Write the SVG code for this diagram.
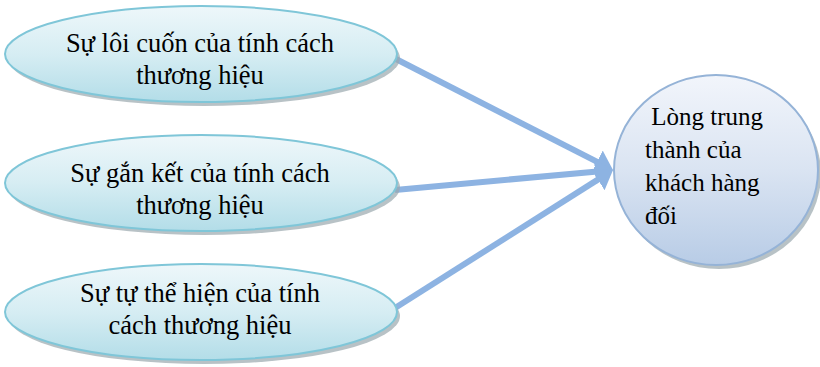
<svg xmlns="http://www.w3.org/2000/svg" width="820" height="367" viewBox="0 0 820 367">
<defs>
<linearGradient id="gE" x1="0" y1="0" x2="0" y2="1">
<stop offset="0" stop-color="#eef7fa"/>
<stop offset="0.5" stop-color="#d6edf3"/>
<stop offset="1" stop-color="#b3dde8"/>
</linearGradient>
<linearGradient id="gC" x1="0" y1="0" x2="0" y2="1">
<stop offset="0" stop-color="#f2f5fb"/>
<stop offset="0.5" stop-color="#dae4f2"/>
<stop offset="1" stop-color="#b8cce6"/>
</linearGradient>
<marker id="ah" markerWidth="3" markerHeight="4.2" refX="1.33" refY="2.1" orient="auto" markerUnits="strokeWidth">
<path d="M0,0 L3,2.1 L0,4.2 Z" fill="#8db3e2"/>
</marker>
<style>
.sh{fill:#9aa8ae;opacity:0.7}
.el{fill:url(#gE);stroke:#7fc6d8;stroke-width:2}
.ci{fill:url(#gC);stroke:#95b3d7;stroke-width:2}
.t{font-family:'Liberation Serif','DejaVu Serif',serif;font-size:26.5px;fill:#000}
.tc{font-family:'Liberation Serif','DejaVu Serif',serif;font-size:25px;fill:#000}
.c{stroke:#8db3e2;stroke-width:6;fill:none;marker-end:url(#ah)}
</style>
</defs>
<g id="connectors">
<line class="c" x1="394" y1="58" x2="604.1" y2="165.45"/>
<line class="c" x1="395" y1="190" x2="603" y2="170.9"/>
<line class="c" x1="395" y1="308" x2="604.55" y2="175.35"/>
</g>
<g id="n1">
<ellipse class="sh" cx="204" cy="58" rx="196" ry="48"/>
<ellipse class="el" cx="201" cy="54" rx="196" ry="48"/>
<text class="t" x="200" y="52" text-anchor="middle">Sự lôi cuốn của tính cách</text>
<text class="t" x="200" y="84" text-anchor="middle">thương hiệu</text>
</g>
<g id="n2">
<ellipse class="sh" cx="204" cy="187" rx="196" ry="48"/>
<ellipse class="el" cx="201" cy="183" rx="196" ry="48"/>
<text class="t" x="200" y="182" text-anchor="middle">Sự gắn kết của tính cách</text>
<text class="t" x="200" y="214" text-anchor="middle">thương hiệu</text>
</g>
<g id="n3">
<ellipse class="sh" cx="204" cy="316" rx="196" ry="48"/>
<ellipse class="el" cx="201" cy="312" rx="196" ry="48"/>
<text class="t" x="200" y="302" text-anchor="middle">Sự tự thể hiện của tính</text>
<text class="t" x="200" y="334" text-anchor="middle">cách thương hiệu</text>
</g>
<g id="n4">
<ellipse class="sh" cx="719" cy="174" rx="102" ry="95"/>
<ellipse class="ci" cx="716" cy="170" rx="102" ry="95"/>
<text class="tc" x="645" y="125" xml:space="preserve"> Lòng trung</text>
<text class="tc" x="645" y="158">thành của</text>
<text class="tc" x="645" y="191">khách hàng</text>
<text class="tc" x="645" y="224">đối</text>
</g>
</svg>
